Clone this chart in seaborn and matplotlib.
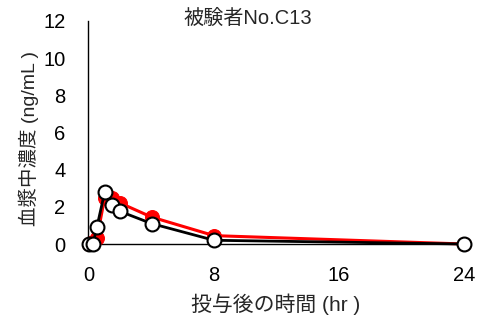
import matplotlib
matplotlib.use('Agg')
import matplotlib.pyplot as plt
import seaborn as sns
import pandas as pd

# Data
time_hr = [0, 0.25, 0.5, 1, 1.5, 2, 4, 8, 24]
conc_red = [0.0, 0.1, 0.3, 2.5, 2.45, 2.2, 1.45, 0.45, 0.0]
conc_white = [0.0, 0.0, 0.9, 2.8, 2.1, 1.75, 1.1, 0.2, 0.0]

title = '被験者No.C13'
xlabel = '投与後の時間 (hr )'
ylabel = '血漿中濃度 (ng/mL )'

sns.set_style('white')
plt.rcParams['font.family'] = ['Liberation Sans', 'Noto Sans CJK JP', 'DejaVu Sans']

df_red = pd.DataFrame({'time': time_hr, 'conc': conc_red})
df_white = pd.DataFrame({'time': time_hr, 'conc': conc_white})

fig = plt.figure(figsize=(4.82, 3.21), dpi=100)
ax = fig.add_axes([87.5 / 482, 1 - 244 / 321, (464 - 87.5) / 482, (244 - 21) / 321])

sns.lineplot(data=df_red, x='time', y='conc', ax=ax, color='red', linewidth=2.2,
             marker='o', markersize=10, markerfacecolor='red', markeredgecolor='red',
             clip_on=False, zorder=3)
sns.lineplot(data=df_white, x='time', y='conc', ax=ax, color='black', linewidth=2,
             marker='o', markersize=10, markerfacecolor='white', markeredgecolor='black',
             markeredgewidth=1.5, clip_on=False, zorder=4)

ax.set_xlim(-0.1, 24)
ax.set_ylim(0, 12)
ax.set_xticks([0, 4, 8, 12, 16, 20, 24])
ax.set_xticklabels(['0', '', '8', '', '16', '', '24'])
ax.set_yticks(range(0, 13, 2))
ax.tick_params(direction='in', length=5, width=1, colors='black', labelsize=14.5)
ax.tick_params(axis='x', pad=16)
ax.tick_params(axis='y', pad=16)

for side in ['top', 'right']:
    ax.spines[side].set_visible(False)
for side in ['left', 'bottom']:
    ax.spines[side].set_color('black')
    ax.spines[side].set_linewidth(1)

ax.set_xlabel(xlabel, fontsize=15, labelpad=6)
ax.set_ylabel(ylabel, fontsize=14, labelpad=3, y=0.475)
fig.text(247.5 / 482, 1 - 18 / 321, title, ha='center', va='center', fontsize=14.5)

fig.savefig('out.png', dpi=100)
